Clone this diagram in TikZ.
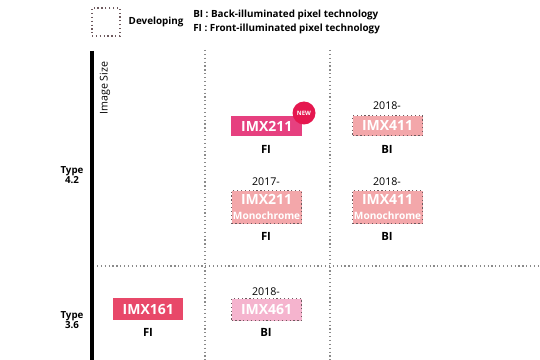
\documentclass[tikz,border=0pt]{standalone}
\usepackage{fontspec}
\setmainfont{Open Sans}
\definecolor{newpink}{HTML}{E6407F}
\definecolor{newred}{HTML}{E5174F}
\definecolor{devpink}{HTML}{F3A7AA}
\definecolor{devpink2}{HTML}{F5B4CE}
\definecolor{redpink}{HTML}{E84869}
\definecolor{dotgray}{HTML}{8A8A8A}
\definecolor{devborder}{HTML}{6E5A5E}
\begin{document}
\begin{tikzpicture}[x=0.75pt,y=-0.75pt,
  grid/.style={dotgray,line width=0.9pt,dotted},
  chip/.style={font=\fontsize{10.5}{11}\selectfont\bfseries,text=white,inner sep=0pt,anchor=north west},
  dev/.style={chip,draw=devborder,line width=0.9pt,dotted},
  lab/.style={font=\fontsize{8.5}{9}\selectfont\bfseries},
  yr/.style={font=\fontsize{8}{9}\selectfont},
  typ/.style={font=\fontsize{7.3}{7}\selectfont\bfseries,align=center}]
\useasboundingbox (0,0) rectangle (540,360);
% legend
\node[draw=devborder,line width=0.9pt,dotted,minimum width=28*0.75pt,minimum height=28*0.75pt,inner sep=0pt] (legbox) at (106,22) {};
\node[anchor=west,font=\fontsize{7.4}{8}\selectfont\bfseries] (legdev) at (124,22) {Developing};
\node[anchor=north west,font=\fontsize{7.4}{10}\selectfont\bfseries,align=left,inner sep=0pt] (legtxt) at (193,10) {BI : Back-illuminated pixel technology\\FI : Front-illuminated pixel technology};
% grid
\coordinate (v1t) at (205,50); \coordinate (v1b) at (205,360);
\coordinate (v2t) at (330,50); \coordinate (v2b) at (330,360);
\coordinate (hl) at (97,266); \coordinate (hr) at (540,266);
\draw[grid] (v1t) -- (v1b);
\draw[grid] (v2t) -- (v2b);
\draw[grid] (hl) -- (hr);
% axis
\coordinate (axt) at (92,51); \coordinate (axb) at (92,360);
\draw[line width=2.4pt] (axt) -- (axb);
\node[rotate=90,anchor=east,font=\fontsize{8}{8}\selectfont] (imgsize) at (105,57) {Image Size};
\node[typ] (t42) at (72,175) {Type\\4.2};
\node[typ] (t36) at (72,320) {Type\\3.6};
% IMX211 FI
\node[chip,fill=newpink,minimum width=71*0.75pt,minimum height=20*0.75pt] (a) at (231,116) {IMX211};
\node[circle,fill=newred,minimum size=23*0.75pt,inner sep=0pt,text=white,font=\fontsize{4.5}{5}\selectfont\bfseries] (new) at (304,113) {NEW};
\node[lab] (afi) at (266,149) {FI};
% IMX411 BI
\node[yr] (byr) at (387,106) {2018-};
\node[dev,fill=devpink,minimum width=70*0.75pt,minimum height=20*0.75pt] (b) at (352,115) {IMX411};
\node[lab] (bbi) at (387,149) {BI};
% IMX211 Monochrome
\node[yr] (cyr) at (266,182) {2017-};
\node[dev,fill=devpink,minimum width=70*0.75pt,minimum height=33*0.75pt,align=center,font=\bfseries] (c) at (231,190) {\fontsize{10.5}{11.5}\selectfont IMX211\\[-1pt]\fontsize{7.6}{9}\selectfont Monochrome};
\node[lab] (cfi) at (266,236) {FI};
% IMX411 Monochrome
\node[yr] (dyr) at (387,182) {2018-};
\node[dev,fill=devpink,minimum width=70*0.75pt,minimum height=33*0.75pt,align=center,font=\bfseries] (d) at (352,190) {\fontsize{10.5}{11.5}\selectfont IMX411\\[-1pt]\fontsize{7.6}{9}\selectfont Monochrome};
\node[lab] (dbi) at (387,236) {BI};
% IMX161
\node[chip,fill=redpink,minimum width=70*0.75pt,minimum height=22*0.75pt] (e) at (113,298) {IMX161};
\node[lab] (efi) at (148,332) {FI};
% IMX461
\node[yr] (fyr) at (266,292) {2018-};
\node[dev,fill=devpink2,minimum width=70*0.75pt,minimum height=22*0.75pt] (f) at (231,298) {IMX461};
\node[lab] (fbi) at (266,332) {BI};
\end{tikzpicture}
\end{document}
